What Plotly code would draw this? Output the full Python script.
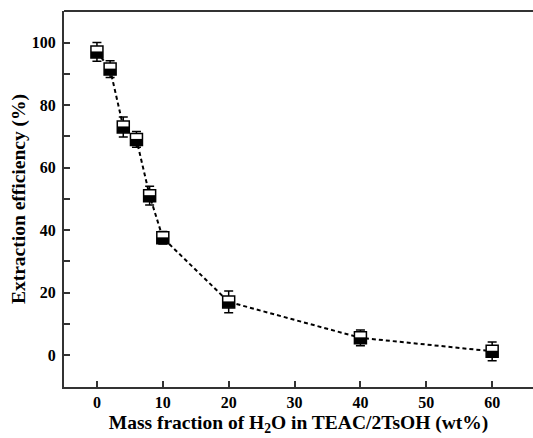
import plotly.graph_objects as go

# Data
water_wt = [0, 2, 4, 6, 8, 10, 20, 40, 60]
efficiency = [97, 91.5, 73, 69, 51, 37.5, 17, 5.5, 1.2]
error = [3, 2.7, 3.2, 2.5, 3, 2, 3.5, 2.5, 3]

x_ticks = [0, 10, 20, 30, 40, 50, 60]
y_ticks = [0, 20, 40, 60, 80, 100]

FONT = "Liberation Serif"

fig = go.Figure()

fig.add_trace(go.Scatter(
    x=water_wt, y=efficiency,
    mode="lines+markers",
    line=dict(color="black", width=2, dash="4px,3px"),
    marker=dict(symbol="square", size=12, color="white",
                line=dict(color="black", width=1.5)),
    error_y=dict(type="data", array=error, visible=True,
                 color="black", thickness=1.5, width=4.5),
    showlegend=False,
))

# half-filled lower part of each square marker
shapes = []
for xi, yi in zip(water_wt, efficiency):
    shapes.append(dict(
        type="rect", xref="x", yref="y",
        xsizemode="pixel", ysizemode="pixel",
        xanchor=xi, yanchor=yi,
        x0=-6, x1=6, y0=-6, y1=0.5,
        fillcolor="black", line=dict(width=0),
    ))
# top frame line
shapes.append(dict(type="line", xref="paper", yref="paper",
                   x0=0, x1=1, y0=1, y1=1,
                   line=dict(color="#333", width=2)))

fig.update_layout(
    width=533, height=438,
    margin=dict(l=64, r=0, t=11, b=51),
    paper_bgcolor="white", plot_bgcolor="white",
    shapes=shapes,
    font=dict(family=FONT, color="black"),
)

fig.update_xaxes(
    range=[-5.0, 66.2],
    tickvals=x_ticks, ticktext=[str(v) for v in x_ticks],
    ticks="inside", ticklen=6, tickwidth=1.5, tickcolor="#333",
    showline=True, linecolor="#333", linewidth=2,
    showgrid=False, zeroline=False,
    tickfont=dict(family=FONT, size=16, color="black", weight="bold"),
    title=dict(text="<b>Mass fraction of H<sub>2</sub>O in TEAC/2TsOH (wt%)</b>",
               font=dict(family=FONT, size=19.5, color="black"), standoff=5),
)
fig.update_yaxes(
    range=[-10.24, 110.1],
    tickvals=y_ticks, ticktext=[str(v) for v in y_ticks],
    ticks="inside", ticklen=6, tickwidth=1.5, tickcolor="#333",
    ticklabelstandoff=3,
    minor=dict(dtick=10, tick0=0, ticks="inside", ticklen=6, tickwidth=1.5, tickcolor="#333"),
    showline=True, linecolor="#333", linewidth=2,
    showgrid=False, zeroline=False,
    tickfont=dict(family=FONT, size=16, color="black", weight="bold"),
    title=dict(text="<b>Extraction efficiency (%)</b>",
               font=dict(family=FONT, size=19.5, color="black"), standoff=1),
)

fig.write_html("out.html")
